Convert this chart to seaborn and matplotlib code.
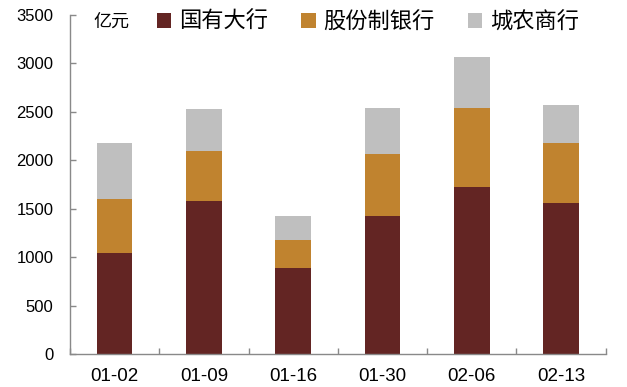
import matplotlib
matplotlib.use("Agg")
import matplotlib.pyplot as plt
from matplotlib.patches import Patch
import seaborn as sns
import numpy as np
import pandas as pd

dates = ["01-02", "01-09", "01-16", "01-30", "02-06", "02-13"]
state_banks = [1040, 1576, 886, 1428, 1720, 1560]
joint_stock = [560, 518, 291, 632, 817, 616]
city_rural = [582, 431, 248, 480, 525, 395]
series_names = ["国有大行", "股份制银行", "城农商行"]
colors = ["#632523", "#C0832F", "#BFBFBF"]
unit_label = "亿元"
yticks = [0, 500, 1000, 1500, 2000, 2500, 3000, 3500]

sns.set_theme(style="white")
plt.rcParams["font.family"] = ["Liberation Sans", "Noto Sans CJK SC", "DejaVu Sans"]
plt.rcParams["text.color"] = "black"
plt.rcParams["xtick.labelcolor"] = "black"
plt.rcParams["ytick.labelcolor"] = "black"

df = pd.DataFrame({"date": dates, "s1": state_banks, "s2": joint_stock, "s3": city_rural})
df["c1"] = df["s1"]
df["c2"] = df["s1"] + df["s2"]
df["c3"] = df["c2"] + df["s3"]

fig = plt.figure(figsize=(6.27, 3.87), dpi=100)
ax = fig.add_axes([0.1116, 0.0853, 0.8544, 0.8759])

for col, c in zip(["c3", "c2", "c1"], colors[::-1]):
    sns.barplot(data=df, x="date", y=col, color=c, width=0.4, linewidth=0,
                saturation=1, ax=ax, zorder=2)

ax.set_xlim(-0.5, len(dates) - 0.5)
ax.set_ylim(0, 3500)
ax.set_yticks(yticks)
ax.set_yticklabels([str(v) for v in yticks])
ax.set_xlabel("")
ax.set_ylabel("")

spine_color = "#898989"
for s in ["top", "right"]:
    ax.spines[s].set_visible(False)
for s in ["left", "bottom"]:
    ax.spines[s].set_color(spine_color)
    ax.spines[s].set_linewidth(1.0)

ax.tick_params(axis="y", which="major", direction="in", length=4, width=1,
               color=spine_color, labelsize=12, pad=12, left=True,
               labelcolor="black")
ax.tick_params(axis="x", which="major", length=0, labelsize=13.5, pad=10,
               labelcolor="black")
ax.set_xticks(np.arange(-0.5, len(dates) + 0.5, 1), minor=True)
ax.tick_params(axis="x", which="minor", direction="in", length=4, width=1,
               color=spine_color, bottom=True)

handles = [Patch(facecolor=c, edgecolor="none") for c in colors]
leg = ax.legend(handles, series_names, ncol=3, frameon=False,
                loc="upper left", bbox_to_anchor=(0.145, 1.035),
                fontsize=16, handlelength=0.65, handleheight=0.65,
                handletextpad=0.35, columnspacing=1.5, borderaxespad=0)
for t in leg.get_texts():
    t.set_color("black")
ax.text(0.043, 1.005, unit_label, transform=ax.transAxes, fontsize=13,
        va="top", ha="left", color="black")

fig.savefig("out.png", dpi=100)
